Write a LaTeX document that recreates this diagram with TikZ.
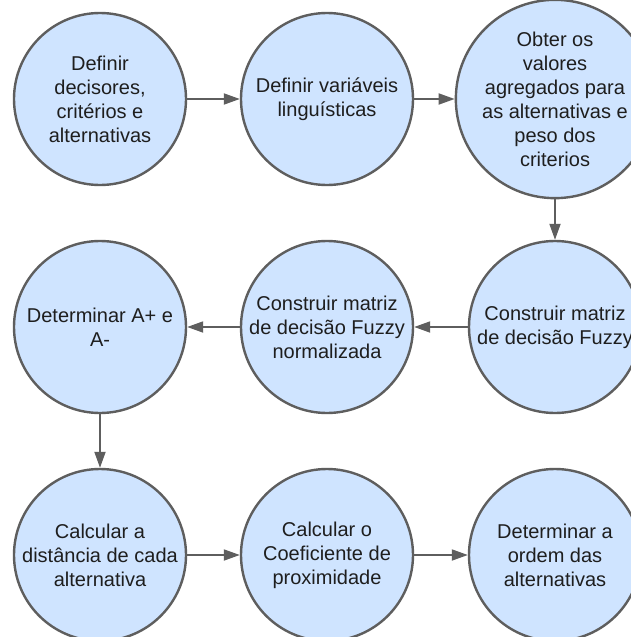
\documentclass[tikz,border=0pt]{standalone}
\usepackage{fontspec}
\setmainfont{Liberation Sans}
\usetikzlibrary{arrows.meta}
\definecolor{stepfill}{HTML}{CFE4FF}
\definecolor{stepline}{HTML}{5E5E5E}
\definecolor{steptext}{HTML}{1E1E1E}
\begin{document}
\begin{tikzpicture}[x=1pt,y=-1pt,
  stepcircle/.style={circle, minimum size=172pt, inner sep=0pt, draw=stepline,
    line width=2.4pt, fill=stepfill, text=steptext, align=center,
    font=\fontsize{20}{24}\selectfont},
  flow/.style={draw=stepline, line width=1.8pt,
    -{Triangle[length=16pt,width=11pt]}}]
  \useasboundingbox (0,0) rectangle (631,637);
  \clip (0,0) rectangle (631,637);
  \fill[white] (0,0) rectangle (631,637);

  % first row
  \node[stepcircle] (s1) at (100,99) {Definir\\decisores,\\critérios e\\alternativas};
  \node[stepcircle] (s2) at (327,99) {Definir variáveis\\linguísticas};
  \node[stepcircle] (s3) at (555,99) {Obter os\\valores\\agregados para\\as alternativas e\\peso dos\\criterios};

  % second row
  \node[stepcircle] (s4) at (100,327) {Determinar A+ e\\A-};
  \node[stepcircle] (s5) at (327,327) {Construir matriz\\de decisão Fuzzy\\normalizada};
  \node[stepcircle] (s6) at (555,327) {Construir matriz\\de decisão Fuzzy};

  % third row
  \node[stepcircle] (s7) at (100,555) {Calcular a\\distância de cada\\alternativa};
  \node[stepcircle] (s8) at (327,555) {Calcular o\\Coeficiente de\\proximidade};
  \node[stepcircle] (s9) at (555,555) {Determinar a\\ordem das\\alternativas};

  % connectors
  \draw[flow] (s1) -- (s2);
  \draw[flow] (s2) -- (s3);
  \draw[flow] (s3) -- (s6);
  \draw[flow] (s6) -- (s5);
  \draw[flow] (s5) -- (s4);
  \draw[flow] (s4) -- (s7);
  \draw[flow] (s7) -- (s8);
  \draw[flow] (s8) -- (s9);
\end{tikzpicture}
\end{document}
